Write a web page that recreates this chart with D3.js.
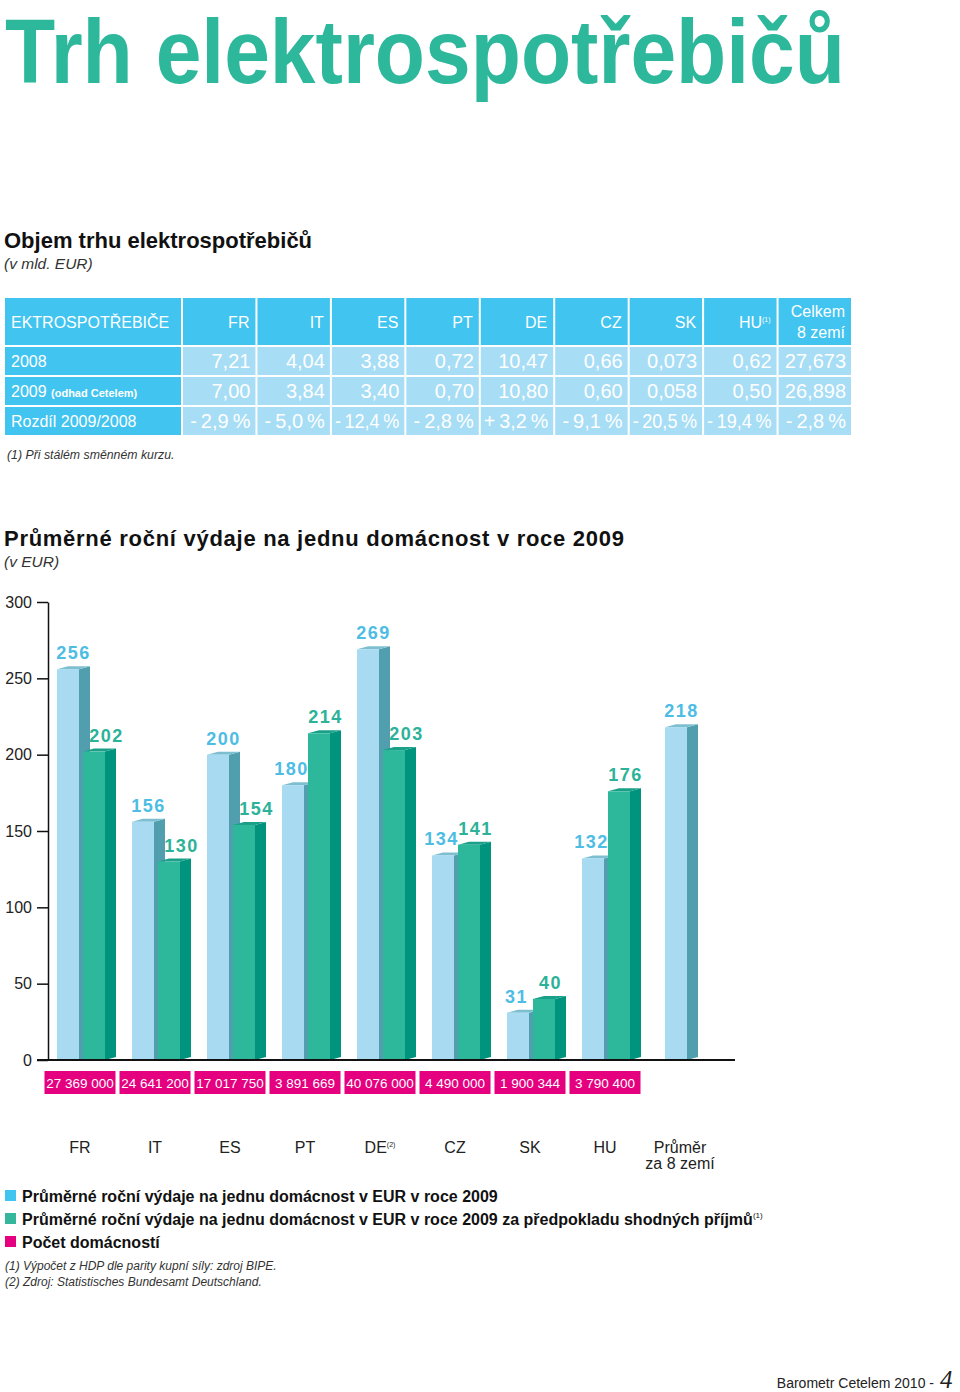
<!DOCTYPE html>
<html>
<head>
<meta charset="utf-8">
<script src="https://cdn.jsdelivr.net/npm/d3@7/dist/d3.min.js"></script>
<style>
  html, body { margin: 0; padding: 0; background: #fff; }
  svg { display: block; }
</style>
</head>
<body>
<div id="chart"></div>
<script>
// ---------------- DATA ----------------
const tableCols = ["FR", "IT", "ES", "PT", "DE", "CZ", "SK", "HU", "Celkem 8 zemí"];
const market2008 = ["7,21", "4,04", "3,88", "0,72", "10,47", "0,66", "0,073", "0,62", "27,673"];
const market2009 = ["7,00", "3,84", "3,40", "0,70", "10,80", "0,60", "0,058", "0,50", "26,898"];
const marketChange = [-2.9, -5.0, -12.4, -2.8, 3.2, -9.1, -20.5, -19.4, -2.8];
const tableRowLabels = ["2008", "2009", "Rozdíl 2009/2008"];

const countries = ["FR", "IT", "ES", "PT", "DE", "CZ", "SK", "HU", "Průměr za 8 zemí"];
const spending2009 = [256, 156, 200, 180, 269, 134, 31, 132, 218];
const spendingEqualIncome = [202, 130, 154, 214, 203, 141, 40, 176, null];
const households = [27369000, 24641200, 17017750, 3891669, 40076000, 4490000, 1900344, 3790400];
const yTicks = [0, 50, 100, 150, 200, 250, 300];

const legendItems = [
  "Průměrné roční výdaje na jednu domácnost v EUR v roce 2009",
  "Průměrné roční výdaje na jednu domácnost v EUR v roce 2009 za předpokladu shodných příjmů",
  "Počet domácností"
];

// ---------------- SETUP ----------------
const W = 960, H = 1392;
const SANS = "'Liberation Sans', Arial, Helvetica, sans-serif";
const svg = d3.select("#chart").append("svg").attr("width", W).attr("height", H)
  .style("font-family", SANS);
svg.append("rect").attr("width", W).attr("height", H).attr("fill", "#fff");

const TEAL = "#2DB89C";
const CYAN = "#41C4F0";
const CELL = "#A7DDF5";
const MAGENTA = "#E4007F";

// Title
svg.append("text")
  .attr("x", 5).attr("y", 83)
  .attr("font-family", SANS)
  .attr("font-weight", 700)
  .attr("font-size", 90)
  .attr("fill", TEAL)
  .attr("textLength", 840).attr("lengthAdjust", "spacingAndGlyphs")
  .text("Trh elektrospotřebičů");

// Section 1 heading
svg.append("text").attr("x", 4).attr("y", 248)
  .attr("font-size", 22).attr("font-weight", 700).attr("fill", "#111")
  .text("Objem trhu elektrospotřebičů");
svg.append("text").attr("x", 4).attr("y", 269)
  .attr("font-size", 15.5).attr("font-style", "italic").attr("fill", "#333")
  .text("(v mld. EUR)");

// ---------------- TABLE ----------------
const xT = d3.scaleBand().domain(tableCols).range([181, 851]);
const yT = d3.scaleBand().domain(tableRowLabels).range([345, 435]);
const tbl = svg.append("g");

// header
tbl.append("rect").attr("x", 5).attr("y", 298).attr("width", 176).attr("height", 47).attr("fill", CYAN);
tbl.append("text").attr("x", 11).attr("y", 328).attr("font-size", 16).attr("fill", "#fff")
  .text("EKTROSPOTŘEBIČE");
tableCols.forEach((c, i) => {
  const x0 = xT(c) + 2, w = xT.bandwidth() - 2;
  tbl.append("rect").attr("x", x0).attr("y", 298).attr("width", w).attr("height", 47).attr("fill", CYAN);
  const right = x0 + w - 6;
  if (c === "Celkem 8 zemí") {
    tbl.append("text").attr("x", right).attr("y", 317).attr("text-anchor", "end")
      .attr("font-size", 16).attr("fill", "#fff").text("Celkem");
    tbl.append("text").attr("x", right).attr("y", 338).attr("text-anchor", "end")
      .attr("font-size", 16).attr("fill", "#fff").text("8 zemí");
  } else if (c === "HU") {
    const t = tbl.append("text").attr("x", right).attr("y", 328).attr("text-anchor", "end")
      .attr("font-size", 16).attr("fill", "#fff");
    t.append("tspan").text("HU");
    t.append("tspan").attr("font-size", 7).attr("dy", -6).text("(1)");
  } else {
    tbl.append("text").attr("x", right).attr("y", 328).attr("text-anchor", "end")
      .attr("font-size", 16).attr("fill", "#fff").text(c);
  }
});

const fmtPct = v => (v < 0 ? "-\u2009" : "+\u2009") + d3.format(".1f")(Math.abs(v)).replace(".", ",") + "\u2009%";
const rowsData = [market2008, market2009, marketChange.map(fmtPct)];

tableRowLabels.forEach((r, ri) => {
  const y0 = yT(r) + 2, h = yT.bandwidth() - 2;
  tbl.append("rect").attr("x", 5).attr("y", y0).attr("width", 176).attr("height", h).attr("fill", CYAN);
  const lbl = tbl.append("text").attr("x", 11).attr("y", y0 + 20).attr("font-size", 16).attr("fill", "#fff");
  if (r === "2009") {
    lbl.append("tspan").text("2009 ");
    lbl.append("tspan").attr("font-size", 11).attr("font-weight", 700).text("(odhad Cetelem)");
  } else {
    lbl.text(r);
  }
  tableCols.forEach((c, ci) => {
    const x0 = xT(c) + 2, w = xT.bandwidth() - 2;
    tbl.append("rect").attr("x", x0).attr("y", y0).attr("width", w).attr("height", h).attr("fill", CELL);
    const t = tbl.append("text").attr("x", x0 + w - 5).attr("y", y0 + 21)
      .attr("text-anchor", "end").attr("font-size", 20).attr("fill", "#fff")
      .text(rowsData[ri][ci]);
    const len = t.node().getComputedTextLength();
    if (len > w - 8) t.attr("textLength", w - 8).attr("lengthAdjust", "spacingAndGlyphs");
  });
});

svg.append("text").attr("x", 7).attr("y", 459).attr("font-size", 12.3)
  .attr("font-style", "italic").attr("fill", "#333")
  .text("(1) Při stálém směnném kurzu.");

// Section 2 heading
svg.append("text").attr("x", 4).attr("y", 546)
  .attr("font-size", 22).attr("font-weight", 700).attr("fill", "#111")
  .attr("textLength", 620).attr("lengthAdjust", "spacing")
  .text("Průměrné roční výdaje na jednu domácnost v roce 2009");
svg.append("text").attr("x", 4).attr("y", 567)
  .attr("font-size", 15.5).attr("font-style", "italic").attr("fill", "#333")
  .text("(v EUR)");

// ---------------- CHART ----------------
const x = d3.scaleBand().domain(countries).range([42.5, 717.5]);
const y = d3.scaleLinear().domain([0, 300]).range([1060, 602]);

const yAxis = svg.append("g").attr("transform", "translate(48,0)")
  .call(d3.axisLeft(y).tickValues(yTicks).tickSize(11).tickSizeOuter(0).tickPadding(5));
yAxis.select(".domain").attr("stroke", "#111").attr("stroke-width", 1.5);
yAxis.selectAll(".tick line").attr("stroke", "#111").attr("stroke-width", 1.5);
yAxis.selectAll(".tick text").attr("font-size", 16).attr("font-family", SANS).attr("fill", "#222");

const BW = 22, DX = 11, DY = 3;
const series = [
  { key: "a", values: spending2009, front: "#A8DBF1", side: "#519FAE", top: "#7DBFD0", label: "#4DBDE4", off: -23 },
  { key: "b", values: spendingEqualIncome, front: "#2DB79B", side: "#00937E", top: "#1A9F88", label: "#2CB298", off: 3 }
];
const bars = svg.append("g");
const labels = svg.append("g");
const y0 = y(0);
countries.forEach((c, i) => {
  const cx = x(c) + x.bandwidth() / 2;
  const present = series.filter(s => s.values[i] != null);
  const a = spending2009[i], b = spendingEqualIncome[i];
  present.forEach(s => {
    const v = s.values[i];
    const bx = present.length === 1 ? cx - 15 : cx + s.off;
    const yt = y(v);
    const g = bars.append("g");
    g.append("polygon").attr("fill", s.side)
      .attr("points", [[bx + BW, yt], [bx + BW + DX, yt - DY], [bx + BW + DX, y0 - DY], [bx + BW, y0]].join(" "));
    g.append("polygon").attr("fill", s.top)
      .attr("points", [[bx, yt], [bx + DX, yt - DY], [bx + BW + DX, yt - DY], [bx + BW, yt]].join(" "));
    g.append("rect").attr("x", bx).attr("y", yt).attr("width", BW).attr("height", y0 - yt).attr("fill", s.front);
    // nudge labels away from a taller neighbour
    let shift = 0;
    if (present.length === 2) {
      if (s.key === "a" && b > a) shift = -7;
      if (s.key === "b" && b < a) shift = 7;
      if (s.key === "b" && b >= a) shift = 1;
    }
    labels.append("text")
      .attr("x", bx + (BW + DX) / 2 + shift).attr("y", yt - 10)
      .attr("text-anchor", "middle").attr("font-size", 18).attr("font-weight", 700)
      .attr("letter-spacing", 1.5).attr("fill", s.label)
      .text(v);
  });
});

// baseline
svg.append("line").attr("x1", 37).attr("x2", 735).attr("y1", 1060).attr("y2", 1060)
  .attr("stroke", "#111").attr("stroke-width", 2);

// households boxes
const fmtHH = d3.formatLocale({ decimal: ",", thousands: " ", grouping: [3] }).format(",d");
households.forEach((h, i) => {
  const cx = x(countries[i]) + x.bandwidth() / 2;
  svg.append("rect").attr("x", cx - 35.5).attr("y", 1071).attr("width", 71).attr("height", 23).attr("fill", MAGENTA);
  svg.append("text").attr("x", cx).attr("y", 1088).attr("text-anchor", "middle")
    .attr("font-size", 13.5).attr("fill", "#fff").text(fmtHH(h));
});

// country labels
countries.forEach((c, i) => {
  const cx = x(c) + x.bandwidth() / 2;
  if (c === "Průměr za 8 zemí") {
    svg.append("text").attr("x", cx).attr("y", 1153).attr("text-anchor", "middle")
      .attr("font-size", 16).attr("fill", "#222").text("Průměr");
    svg.append("text").attr("x", cx).attr("y", 1169).attr("text-anchor", "middle")
      .attr("font-size", 16).attr("fill", "#222").text("za 8 zemí");
  } else if (c === "DE") {
    const t = svg.append("text").attr("x", cx).attr("y", 1153).attr("text-anchor", "middle")
      .attr("font-size", 16).attr("fill", "#222");
    t.append("tspan").text("DE");
    t.append("tspan").attr("font-size", 7).attr("dy", -6).text("(2)");
  } else {
    svg.append("text").attr("x", cx).attr("y", 1153).attr("text-anchor", "middle")
      .attr("font-size", 16).attr("fill", "#222").text(c);
  }
});

// legend
const legColors = [CYAN, "#35B79B", MAGENTA];
legendItems.forEach((txt, i) => {
  const ly = 1190 + i * 23;
  svg.append("rect").attr("x", 5).attr("y", ly).attr("width", 11).attr("height", 11).attr("fill", legColors[i]);
  const t = svg.append("text").attr("x", 22).attr("y", ly + 12).attr("font-size", 16)
    .attr("font-weight", 700).attr("fill", "#111");
  t.append("tspan").text(txt);
  if (i === 1) t.append("tspan").attr("font-size", 8).attr("font-weight", 400).attr("dy", -7).text("(1)");
});

// footnotes
svg.append("text").attr("x", 5).attr("y", 1270).attr("font-size", 12).attr("font-style", "italic")
  .attr("fill", "#333").text("(1) Výpočet z HDP dle parity kupní síly: zdroj BIPE.");
svg.append("text").attr("x", 5).attr("y", 1286).attr("font-size", 12).attr("font-style", "italic")
  .attr("fill", "#333").text("(2) Zdroj: Statistisches Bundesamt Deutschland.");

// footer
svg.append("text").attr("x", 934).attr("y", 1388).attr("text-anchor", "end")
  .attr("font-size", 14).attr("fill", "#222").text("Barometr Cetelem 2010 -");
svg.append("text").attr("x", 940).attr("y", 1388)
  .attr("font-family", "'Liberation Serif', 'DejaVu Serif', serif").attr("font-style", "italic")
  .attr("font-size", 25).attr("fill", "#222").text("4");
</script>
</body>
</html>
